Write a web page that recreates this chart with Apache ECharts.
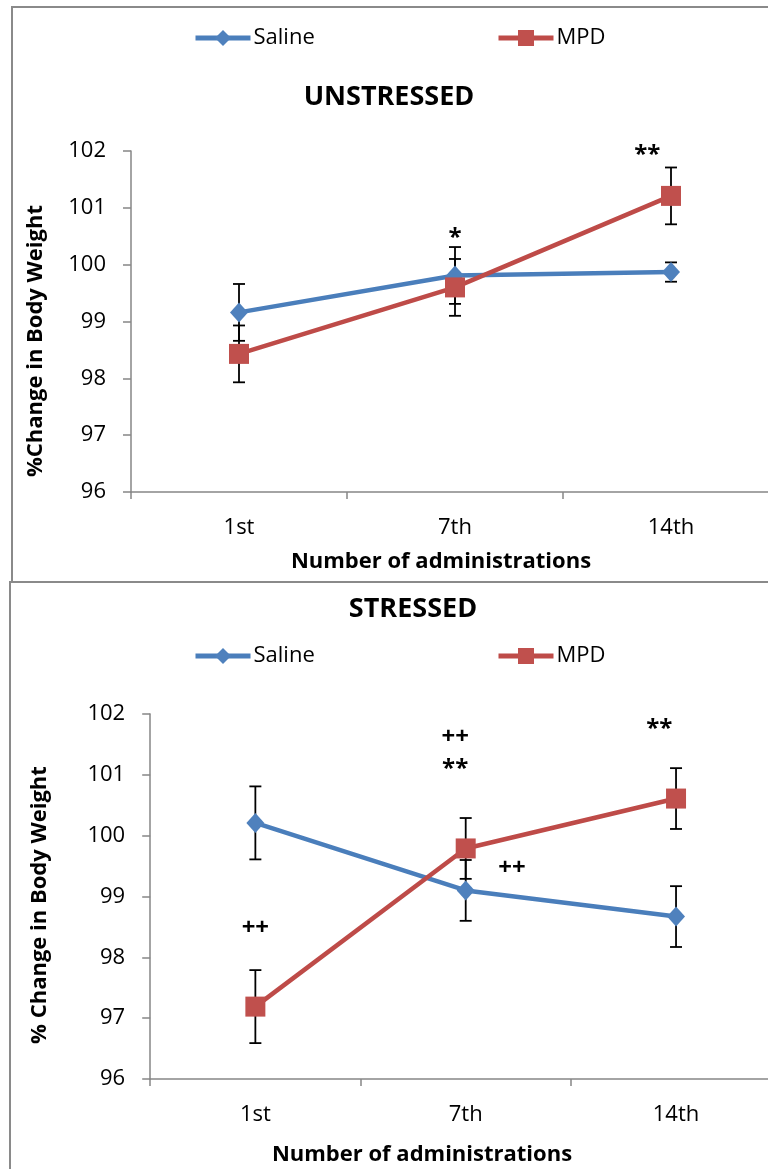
<!DOCTYPE html>
<html>
<head>
<meta charset="utf-8">
<script src="https://cdn.jsdelivr.net/npm/echarts@6/dist/echarts.min.js"></script>
<style>
html,body{margin:0;padding:0;background:#fff;overflow:hidden;}
#chart{width:768px;height:1169px;}
</style>
</head>
<body>
<div id="chart"></div>
<script>
// ---- data ----
const categories = ['1st', '7th', '14th'];
const seriesNames = ['Saline', 'MPD'];
const yMin = 96, yMax = 102, yStep = 1;

const unstressedSaline = [99.16, 99.81, 99.87];
const unstressedSalineErr = [0.5, 0.5, 0.17];
const unstressedMPD = [98.43, 99.60, 101.21];
const unstressedMPDErr = [0.5, 0.5, 0.5];

const stressedSaline = [100.21, 99.10, 98.67];
const stressedSalineErr = [0.6, 0.5, 0.5];
const stressedMPD = [97.19, 99.79, 100.61];
const stressedMPDErr = [0.6, 0.5, 0.5];

// significance marks (x in category units, y in axis units)
const unstressedMarkText = ['*', '**'];
const unstressedMarkX = [1.0, 1.89];
const unstressedMarkY = [100.47, 101.92];

const stressedMarkText = ['++', '++', '**', '**', '++'];
const stressedMarkX = [0.0, 0.95, 0.95, 1.92, 1.22];
const stressedMarkY = [98.48, 101.62, 101.1, 101.75, 99.47];

const titles = ['UNSTRESSED', 'STRESSED'];
const yNames = ['%Change in Body Weight', '% Change in Body Weight'];
const xName = 'Number of administrations';

// ---- styles ----
const FONT = '"Open Sans", Lato, sans-serif';
const BLUE = '#4A7EBB', BLUE_M = '#4F81BD';
const RED = '#BE4B48', RED_M = '#C0504D';
const AXIS = '#868686';

const chart = echarts.init(document.getElementById('chart'), null, {renderer: 'canvas'});

function errData(vals, errs) {
  return vals.map((v, i) => [i, v, errs[i]]);
}
function errRender(params, api) {
  const x = api.value(0), v = api.value(1), e = api.value(2);
  const t = api.coord([x, v + e]);
  const b = api.coord([x, v - e]);
  const hw = 6;
  const st = {stroke: '#000', lineWidth: 1.8};
  return {type: 'group', children: [
    {type: 'line', shape: {x1: t[0], y1: t[1], x2: b[0], y2: b[1]}, style: st},
    {type: 'line', shape: {x1: t[0] - hw, y1: t[1], x2: t[0] + hw, y2: t[1]}, style: st},
    {type: 'line', shape: {x1: b[0] - hw, y1: b[1], x2: b[0] + hw, y2: b[1]}, style: st}
  ]};
}
function markRender(texts) {
  return function (params, api) {
    const p = api.coord([api.value(0), api.value(1)]);
    return {type: 'text', x: p[0], y: p[1], style: {
      text: texts[params.dataIndex], font: 'bold 24px ' + FONT, fill: '#000',
      textAlign: 'center', textVerticalAlign: 'middle'}};
  };
}

const grids = [
  {left: 131, top: 151, width: 648, height: 341},
  {left: 150.2, top: 714, width: 631, height: 365}
];

function catAxis(gi) {
  return {type: 'category', gridIndex: gi, data: categories, boundaryGap: true,
    axisLine: {onZero: false, lineStyle: {color: AXIS, width: 1.5}},
    axisTick: {show: true, alignWithLabel: false, length: 7, lineStyle: {color: AXIS, width: 1.5}},
    axisLabel: {margin: 25, fontSize: 22, fontFamily: FONT, color: '#000'},
    splitLine: {show: false}};
}
function valXAxis(gi) {
  return {type: 'value', gridIndex: gi, min: -0.5, max: 2.5, show: false,
    axisLine: {onZero: false}};
}
function yAxis(gi) {
  return {type: 'value', gridIndex: gi, min: yMin, max: yMax, interval: yStep,
    axisLine: {show: true, onZero: false, lineStyle: {color: AXIS, width: 1.5}},
    axisTick: {show: true, length: 8, lineStyle: {color: AXIS, width: 1.5}},
    axisLabel: {margin: 25, fontSize: 22, fontFamily: FONT, color: '#000'},
    splitLine: {show: false}};
}
function lineSeries(name, data, xi, yi) {
  const isSal = name === 'Saline';
  return {type: 'line', name: name, xAxisIndex: xi, yAxisIndex: yi, data: data, z: 3,
    symbol: isSal ? 'diamond' : 'rect', symbolSize: isSal ? [18, 20] : 20,
    lineStyle: {width: 4.5, color: isSal ? BLUE : RED},
    itemStyle: {color: isSal ? BLUE_M : RED_M},
    emphasis: {disabled: true}, animation: false};
}
function legend(name, left, top) {
  return {data: [name], left: left, top: top, itemWidth: 55, itemHeight: 20, itemGap: 0,
    selectedMode: false, padding: 0,
    lineStyle: {width: 5},
    textStyle: {fontSize: 22, fontFamily: FONT, color: '#000', padding: [0, 0, 0, -2]}};
}
function txt(text, x, y, font, rot) {
  return {type: 'text', x: x, y: y, rotation: rot || 0, silent: true,
    style: {text: text, font: font, fill: '#000', textAlign: 'center', textVerticalAlign: 'middle'}};
}

const option = {
  animation: false,
  backgroundColor: '#fff',
  grid: grids.map(g => Object.assign({outerBoundsMode: 'none', containLabel: false}, g)),
  xAxis: [catAxis(0), valXAxis(0), catAxis(1), valXAxis(1)],
  yAxis: [yAxis(0), yAxis(1)],
  legend: [
    legend('Saline', 193, 27), legend('MPD', 496, 27),
    legend('Saline', 193, 645), legend('MPD', 496, 645)
  ],
  series: [
    {type: 'custom', name: 'errU1', xAxisIndex: 0, yAxisIndex: 0, z: 1, renderItem: errRender, data: errData(unstressedSaline, unstressedSalineErr)},
    {type: 'custom', name: 'errU2', xAxisIndex: 0, yAxisIndex: 0, z: 1, renderItem: errRender, data: errData(unstressedMPD, unstressedMPDErr)},
    lineSeries('Saline', unstressedSaline, 0, 0),
    lineSeries('MPD', unstressedMPD, 0, 0),
    {type: 'custom', name: 'marksU', xAxisIndex: 1, yAxisIndex: 0, z: 4, renderItem: markRender(unstressedMarkText),
      data: unstressedMarkX.map((x, i) => [x, unstressedMarkY[i]])},

    {type: 'custom', name: 'errS1', xAxisIndex: 2, yAxisIndex: 1, z: 1, renderItem: errRender, data: errData(stressedSaline, stressedSalineErr)},
    {type: 'custom', name: 'errS2', xAxisIndex: 2, yAxisIndex: 1, z: 1, renderItem: errRender, data: errData(stressedMPD, stressedMPDErr)},
    lineSeries('Saline', stressedSaline, 2, 1),
    lineSeries('MPD', stressedMPD, 2, 1),
    {type: 'custom', name: 'marksS', xAxisIndex: 3, yAxisIndex: 1, z: 4, renderItem: markRender(stressedMarkText),
      data: stressedMarkX.map((x, i) => [x, stressedMarkY[i]])}
  ],
  graphic: [
    {type: 'rect', shape: {x: 12, y: 7, width: 900, height: 575}, style: {fill: null, stroke: '#8a8a8a', lineWidth: 2}, silent: true, z: 0},
    {type: 'rect', shape: {x: 10, y: 582, width: 900, height: 700}, style: {fill: null, stroke: '#8a8a8a', lineWidth: 2}, silent: true, z: 0},
    txt(titles[0], 389, 97, 'bold 27px ' + FONT),
    txt(titles[1], 413, 609, 'bold 27px ' + FONT),
    txt(yNames[0], 36, 341, 'bold 22px ' + FONT, Math.PI / 2),
    txt(yNames[1], 40, 905, 'bold 22px ' + FONT, Math.PI / 2),
    txt(xName, 441, 562, 'bold 22px ' + FONT),
    txt(xName, 422, 1155, 'bold 22px ' + FONT)
  ]
};
chart.setOption(option);
</script>
</body>
</html>
